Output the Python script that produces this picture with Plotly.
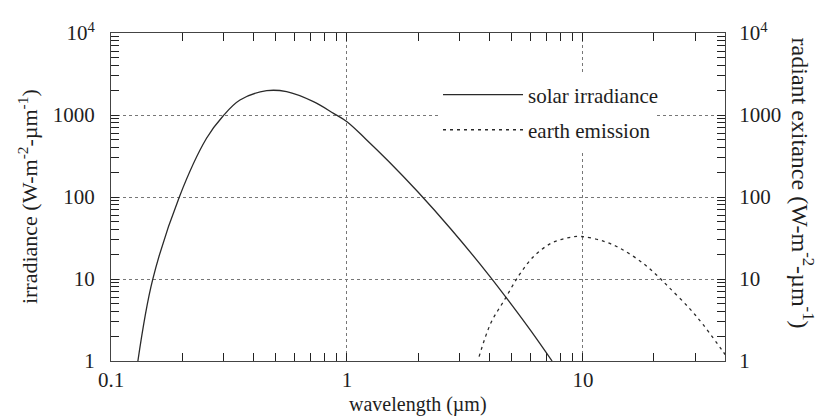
import plotly.graph_objects as go

# solar irradiance (wavelength um, W m-2 um-1)
solar_wl = [0.130, 0.150, 0.195, 0.254, 0.2985, 0.352, 0.457, 0.555, 0.721, 0.877, 1.0,
            1.2, 1.5, 2.0, 2.75, 4.0, 5.0, 6.0, 7.4]
solar_val = [1.0, 9.7, 101, 520, 973, 1524, 1977, 1923, 1453, 1048, 828,
             511, 273, 115, 41, 11.1, 4.8, 2.36, 1.0]

# earth emission (wavelength um, W m-2 um-1)
earth_wl = [3.63, 4.07, 4.64, 5.37, 6.2, 7.33, 8.5, 9.8, 12.4, 14.8, 18.0, 20.5, 23.0,
            28.0, 32.4, 38.8, 40.0]
earth_val = [1.13, 2.9, 5.5, 11.2, 19.0, 27.3, 31.5, 33.0, 28.5, 22.6, 15.5, 11.2, 8.06,
             4.52, 2.75, 1.36, 1.2]

x_major = [0.1, 1, 10]
x_major_text = ["0.1", "1", "10"]
y_major = [1, 10, 100, 1000, 10000]
y_major_text = ["1", "10", "100", "1000", "10<sup>4</sup>"]

x_minor = [m * 10 ** e for e in (-1, 0, 1) for m in range(2, 10) if m * 10 ** e <= 40]
y_minor = [m * 10 ** e for e in (0, 1, 2, 3) for m in range(2, 10)]

# all tick positions (major + minor), labels only on the decades
x_all = sorted(x_major + x_minor)
x_all_text = [x_major_text[x_major.index(v)] if v in x_major else " " for v in x_all]
y_all = sorted(y_major + y_minor)
y_all_text = [y_major_text[y_major.index(v)] if v in y_major else " " for v in y_all]

SERIF = "Liberation Serif"
LINE = "#2a2a2a"
AX = "#222222"
TXT = "#1e1e1e"
GRID = "#777777"

fig = go.Figure()
fig.add_trace(go.Scatter(x=solar_wl, y=solar_val, mode="lines", name="solar irradiance",
                         legend="legend",
                         line=dict(color=LINE, width=1.3), line_shape="spline"))
fig.add_trace(go.Scatter(x=earth_wl, y=earth_val, mode="lines", name="earth emission",
                         yaxis="y2", legend="legend2",
                         line=dict(color=LINE, width=1.3, dash="3px,4px"),
                         line_shape="spline"))

legend_common = dict(xanchor="left", yanchor="middle", bgcolor="white", borderwidth=0,
                     itemwidth=80, font=dict(family=SERIF, size=21, color=TXT))

tick_style = dict(ticks="inside", ticklen=8, tickcolor=AX, tickwidth=1.3)

fig.update_layout(
    width=821, height=419,
    margin=dict(l=111, r=96, t=33, b=58),
    paper_bgcolor="white", plot_bgcolor="white",
    font=dict(family=SERIF, size=20, color=TXT),
    showlegend=True,
    legend=dict(x=0.5326, y=0.811, **legend_common),
    legend2=dict(x=0.5326, y=0.704, **legend_common),
    xaxis=dict(type="log", range=[-1, 1.60206],
               tickmode="array", tickvals=x_all, ticktext=x_all_text, tickangle=0,
               showline=True, linecolor="#444444", linewidth=1, mirror="ticks",
               showgrid=False,
               minor=dict(tickmode="array", tickvals=x_major, ticks="",
                          showgrid=True, gridcolor=GRID, griddash="dot", gridwidth=1),
               tickfont=dict(size=21), zeroline=False, **tick_style),
    yaxis=dict(type="log", range=[0, 4],
               tickmode="array", tickvals=y_all, ticktext=y_all_text, tickangle=0,
               showline=True, linecolor="#444444", linewidth=1,
               showgrid=False,
               minor=dict(tickmode="array", tickvals=y_major, ticks="",
                          showgrid=True, gridcolor=GRID, griddash="dot", gridwidth=1),
               tickfont=dict(size=21), ticklabelstandoff=11, zeroline=False, **tick_style),
    yaxis2=dict(type="log", range=[0, 4], overlaying="y", side="right",
                tickmode="array", tickvals=y_all, ticktext=y_all_text, tickangle=0,
                showline=True, linecolor="#444444", linewidth=1, showgrid=False,
                tickfont=dict(size=21), ticklabelstandoff=9, zeroline=False, **tick_style),
    annotations=[
        dict(text="irradiance (W-m<sup>-2</sup>-µm<sup>-1</sup>)", xref="paper", yref="paper",
             x=-0.135, y=0.5, xanchor="center", yanchor="middle", textangle=-90,
             showarrow=False, font=dict(family=SERIF, size=22, color=TXT)),
        dict(text="radiant exitance (W-m<sup>-2</sup>-µm<sup>-1</sup>)", xref="paper", yref="paper",
             x=1.127, y=0.541, xanchor="center", yanchor="middle", textangle=90,
             showarrow=False, font=dict(family=SERIF, size=24, color=TXT)),
        dict(text="wavelength (µm)", xref="paper", yref="paper",
             x=0.5, y=-0.134, xanchor="center", yanchor="middle",
             showarrow=False, font=dict(family=SERIF, size=20, color=TXT)),
    ],
)

fig.write_html("out.html")
